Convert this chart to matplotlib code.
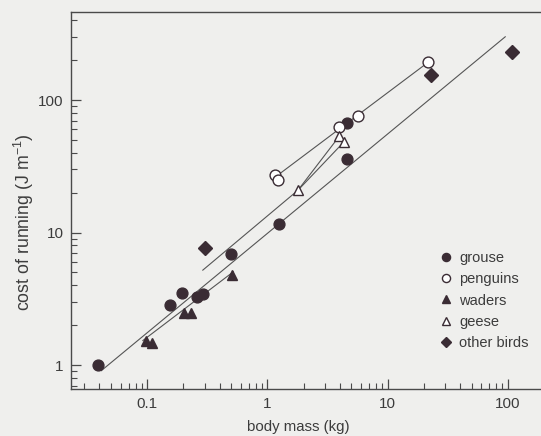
import matplotlib
matplotlib.use("Agg")
import matplotlib.pyplot as plt
import numpy as np

plt.rcParams['font.family'] = ['Liberation Sans', 'DejaVu Sans']

# ---- data (body mass kg, cost of running J/m) ----
grouse_x = [0.039, 0.154, 0.195, 0.258, 0.292, 0.50, 1.25, 4.55, 4.62]
grouse_y = [1.00, 2.82, 3.48, 3.28, 3.42, 6.85, 11.6, 35.9, 67.3]

penguin_x = [1.16, 1.22, 3.91, 5.71, 21.6]
penguin_y = [27.0, 25.0, 62.4, 75.6, 192]

wader_x = [0.097, 0.110, 0.203, 0.231, 0.512]
wader_y = [1.52, 1.46, 2.48, 2.46, 4.77]

geese_x = [1.79, 3.96, 4.30]
geese_y = [20.8, 53.3, 48.0]

other_x = [0.302, 23.1, 109]
other_y = [7.59, 154, 229]

# fitted lines (end points)
allbirds_line_x = [0.0415, 95]
allbirds_line_y = [0.906, 300]
penguin_line_x = [1.18, 21.6]
penguin_line_y = [26.5, 192]
wader_line_x = [0.092, 0.52]
wader_line_y = [1.53, 5.05]
geese_line_x = [0.29, 1.79, 4.30]
geese_line_y = [5.2, 20.8, 48.0]
geese_line2_x = [1.79, 3.96]
geese_line2_y = [20.8, 53.3]

xticks = [0.1, 1, 10, 100]
xticklabels = ['0.1', '1', '10', '100']
yticks = [1, 10, 100]
yticklabels = ['1', '10', '100']

bg = '#efefed'
ink = '#3a2c34'
linec = '#555555'
textc = '#3c3c3c'

fig = plt.figure(figsize=(5.41, 4.36), dpi=100, facecolor=bg)
ax = fig.add_axes([70.7/541, (436-389)/436, (544.1-70.7)/541, (389-11.7)/436])
ax.set_facecolor(bg)
ax.set_xscale('log')
ax.set_yscale('log')
ax.set_xlim(0.0231, 200)
ax.set_ylim(0.659, 464)

lw = 0.8
for lx, ly in [(allbirds_line_x, allbirds_line_y), (penguin_line_x, penguin_line_y),
               (wader_line_x, wader_line_y), (geese_line_x, geese_line_y),
               (geese_line2_x, geese_line2_y)]:
    ax.plot(lx, ly, color=linec, lw=lw, zorder=2)

ms = 7.8
ax.plot(grouse_x, grouse_y, 'o', ms=ms, mfc=ink, mec=ink, ls='none', label='grouse', zorder=3)
ax.plot(penguin_x, penguin_y, 'o', ms=ms, mfc='white', mec=ink, mew=1.0, ls='none', label='penguins', zorder=3)
ax.plot(wader_x, wader_y, '^', ms=ms, mfc=ink, mec=ink, ls='none', label='waders', zorder=3)
ax.plot(geese_x, geese_y, '^', ms=ms, mfc='white', mec=ink, mew=1.0, ls='none', label='geese', zorder=3)
ax.plot(other_x, other_y, 'D', ms=6.8, mfc=ink, mec=ink, ls='none', label='other birds', zorder=3)

for s in ax.spines.values():
    s.set_color('#4a4a4a')
    s.set_linewidth(1.0)

ax.set_xticks(xticks)
ax.set_xticklabels(xticklabels)
ax.set_yticks(yticks)
ax.set_yticklabels(yticklabels)
ax.tick_params(which='major', direction='in', length=7, width=0.9, color='#4a4a4a',
               labelsize=11, labelcolor=textc, pad=5)
ax.tick_params(which='minor', direction='in', length=4, width=0.8, color='#4a4a4a')
ax.tick_params(axis='x', which='major', pad=6)
ax.yaxis.set_minor_formatter(matplotlib.ticker.NullFormatter())
ax.xaxis.set_minor_formatter(matplotlib.ticker.NullFormatter())

ax.set_xlabel('body mass (kg)', fontsize=10.8, color=textc)
ax.set_ylabel('cost of running (J m$^{\\mathregular{-1}}$)', fontsize=12.8, color=textc)
ax.xaxis.set_label_coords((298-70.7)/473.4, (389-426.7)/377.3)
ax.yaxis.set_label_coords((24-70.7)/473.4, (389-222)/377.3)
ax.xaxis.label.set_va('center')
ax.yaxis.label.set_va('center')

leg = ax.legend(loc='upper left', bbox_to_anchor=((440-70.7)/473.4, (389-251)/377.3),
                frameon=False, fontsize=10.5, markerscale=0.75, handlelength=0.8,
                handletextpad=0.5, labelspacing=0.5, borderpad=0, borderaxespad=0)
for t in leg.get_texts():
    t.set_color(textc)

fig.savefig('out.png', dpi=100, facecolor=bg)
